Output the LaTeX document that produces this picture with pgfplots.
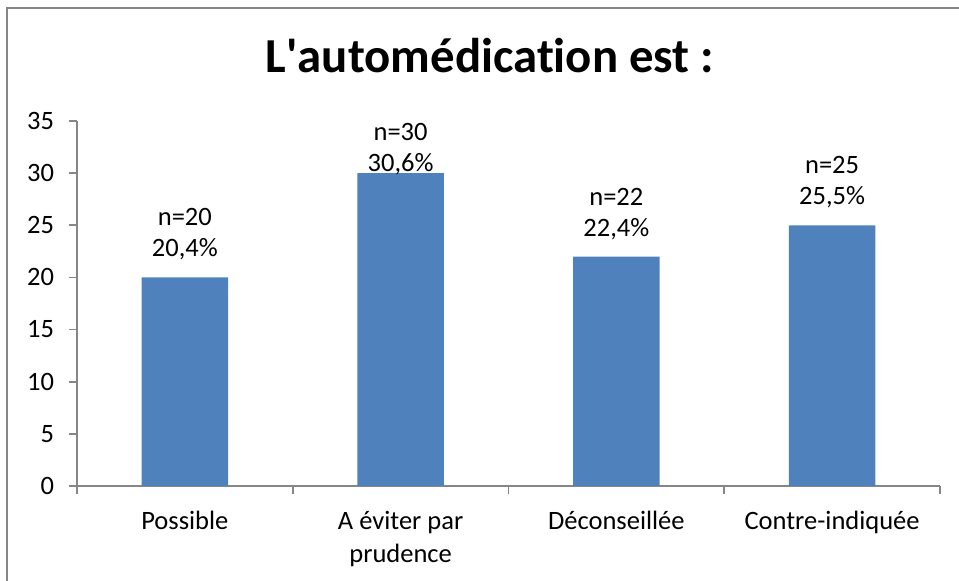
\documentclass[border=0pt]{standalone}
\usepackage{fontspec}
\setmainfont[Ligatures=NoCommon]{Carlito}
\usepackage{pgfplots}
\pgfplotsset{compat=1.18}

\definecolor{barblue}{HTML}{4F81BD}
\definecolor{axgray}{HTML}{868686}

\begin{document}
\begin{tikzpicture}[x=1pt,y=1pt]
\useasboundingbox (0,0) rectangle (479.5,290.5);
\draw[axgray, line width=0.8pt] (3.5,-5) -- (3.5,286.5) -- (485,286.5);
\node[anchor=base, font=\fontsize{24.4}{29}\selectfont\bfseries] at (245,254) {L\textquotesingle automédication est :};
\begin{axis}[
  at={(38.5pt,47.5pt)}, anchor=south west,
  scale only axis, width=431.5pt, height=182.5pt,
  ymin=0, ymax=35, ytick={0,5,...,35},
  xmin=-0.5, xmax=3.5,
  xtick={0,1,2,3},
  xticklabels={Possible, {A éviter par\\prudence}, Déconseillée, Contre-indiquée},
  minor xtick={-0.5,0.5,1.5,2.5,3.5},
  axis x line*=bottom, axis y line*=left,
  axis line style={axgray, line width=0.8pt},
  tick align=outside,
  major tick length=4pt, minor tick length=4pt,
  every tick/.style={axgray, line width=0.8pt},
  major x tick style={draw=none},
  tick label style={font=\fontsize{13.25}{16.5}\selectfont},
  xticklabel style={align=center, yshift=-5pt},
  yticklabel style={xshift=-4pt},
  /pgf/number format/assume math mode=true,
  ybar, bar width=0.4,
]
\addplot[fill=barblue, draw=none] coordinates {(0,20) (1,30) (2,22) (3,25)};
\tikzset{lab/.style={anchor=base, font=\fontsize{13.25}{16.5}\selectfont}}
\node[lab, yshift=10.25pt] at (axis cs:0,20) {20,4\%};
\node[lab, yshift=25.75pt] at (axis cs:0,20) {n=20};
\node[lab, yshift=0.75pt] at (axis cs:1,30) {30,6\%};
\node[lab, yshift=16.25pt] at (axis cs:1,30) {n=30};
\node[lab, yshift=10.25pt] at (axis cs:2,22) {22,4\%};
\node[lab, yshift=25.75pt] at (axis cs:2,22) {n=22};
\node[lab, yshift=10.25pt] at (axis cs:3,25) {25,5\%};
\node[lab, yshift=25.75pt] at (axis cs:3,25) {n=25};
\end{axis}
\end{tikzpicture}
\end{document}
